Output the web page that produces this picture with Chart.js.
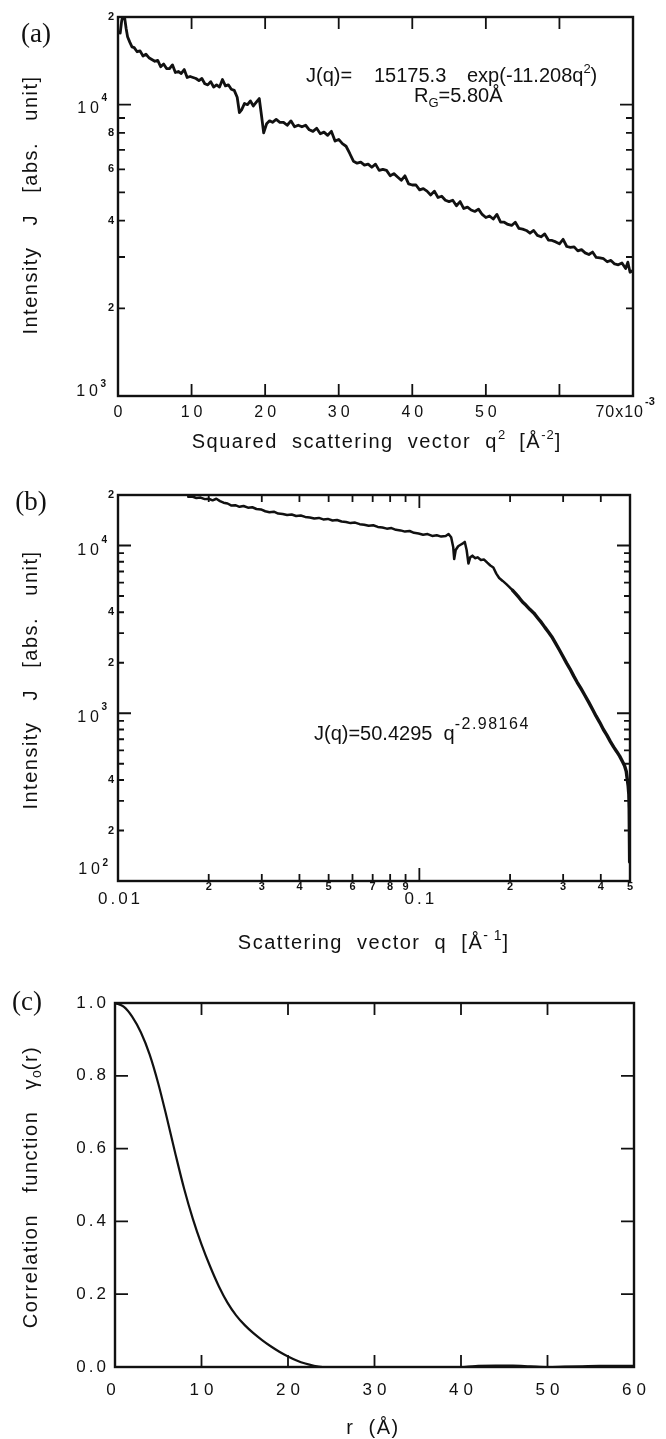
<!DOCTYPE html>
<html>
<head>
<meta charset="utf-8">
<title>Scattering curves</title>
<script src="https://cdn.jsdelivr.net/npm/chart.js@4.4.1/dist/chart.umd.min.js"></script>
<style>
  html, body { margin: 0; padding: 0; background: #fff; }
  body { position: relative; width: 666px; height: 1439px; overflow: hidden; }
  canvas { position: absolute; left: 0; }
</style>
</head>
<body>
<canvas id="guinier" width="666" height="470" style="top:0"></canvas>
<canvas id="porod" width="666" height="490" style="top:470px"></canvas>
<canvas id="corr" width="666" height="479" style="top:960px"></canvas>
<script>
const INK = '#111';
const SANS = "'Liberation Sans', Arial, Helvetica, sans-serif";
const SERIF = "'Liberation Serif', 'DejaVu Serif', serif";

// ── (a) Guinier plot: J against q² (q² in 10⁻³ Å⁻²) ─────────────

const q2Values = [
  0.3, 0.5, 0.7, 0.9, 1.1, 1.3, 1.6, 1.9, 2.2, 2.6,
  3.0, 3.4, 3.8, 4.2, 4.6, 5.0, 5.4, 5.8, 6.2, 6.6,
  7.0, 7.4, 7.8, 8.2, 8.6, 9.0, 9.4, 9.8, 10.2, 10.6,
  11.0, 11.4, 11.8, 12.2, 12.6, 13.0, 13.4, 13.8, 14.2, 14.6,
  15.0, 15.4, 15.8, 16.2, 16.5, 16.8, 17.2, 17.6, 18.0, 18.4,
  18.8, 19.2, 19.5, 19.8, 20.2, 20.6, 21.0, 21.5, 22.0, 22.5,
  23.0, 23.5, 24.0, 24.5, 25.0, 25.5, 26.0, 26.5, 27.0, 27.5,
  28.0, 28.5, 29.0, 29.5, 30.0, 30.5, 31.0, 31.5, 32.0, 32.5,
  33.0, 33.5, 34.0, 34.5, 35.0, 35.5, 36.0, 36.5, 37.0, 37.5,
  38.0, 38.5, 39.0, 39.5, 40.0, 40.5, 41.0, 41.5, 42.0, 42.5,
  43.0, 43.5, 44.0, 44.5, 45.0, 45.5, 46.0, 46.5, 47.0, 47.5,
  48.0, 48.5, 49.0, 49.5, 50.0, 50.5, 51.0, 51.5, 52.0, 52.5,
  53.0, 53.5, 54.0, 54.5, 55.0, 55.5, 56.0, 56.5, 57.0, 57.5,
  58.0, 58.5, 59.0, 59.5, 60.0, 60.5, 61.0, 61.5, 62.0, 62.5,
  63.0, 63.5, 64.0, 64.5, 65.0, 65.5, 66.0, 66.5, 67.0, 67.5,
  68.0, 68.5, 69.0, 69.3, 69.6, 70.0
];
const guinierJ = [
  17600, 19400, 20300, 19900, 18300, 17100, 16400, 15800, 15700, 15200,
  15300, 14700, 14900, 14500, 14300, 14100, 14200, 13500, 13800, 13300,
  13300, 13700, 12900, 13000, 12800, 13200, 12400, 12500, 12400, 12300,
  12100, 12300, 11800, 11700, 12000, 11500, 11700, 11500, 12200, 11600,
  11700, 11300, 11200, 10600, 9400, 9600, 10100, 10000, 10300, 9900,
  10200, 10500, 9200, 8000, 8600, 8800, 8700, 8900, 8700, 8700,
  8500, 8800, 8400, 8500, 8400, 8500, 8200, 8100, 8300, 7950,
  8050, 7850, 8100, 7500, 7600, 7350, 7200, 6800, 6400, 6300,
  6350, 6200, 6250, 6100, 6250, 5950, 6000, 5950, 5700, 5800,
  5650, 5500, 5700, 5350, 5300, 5300, 5100, 5150, 5050, 4900,
  5050, 4800, 4850, 4700, 4650, 4700, 4500, 4650, 4400, 4450,
  4350, 4300, 4380, 4200, 4100, 4150, 4050, 4200, 3950, 3950,
  3880, 3850, 3950, 3760, 3740, 3700, 3620, 3700, 3560, 3520,
  3600, 3430, 3420, 3380, 3330, 3450, 3260, 3240, 3250, 3150,
  3180, 3100, 3060, 3120, 2990, 2980, 2960, 2890, 2920, 2840,
  2820, 2860, 2740, 2880, 2660, 2700
];
const q2TickValues = [10, 20, 30, 40, 50, 60];
const q2LabelValues = [0, 10, 20, 30, 40, 50];
const q2LabelText = ['0', '10', '20', '30', '40', '50'];
const guinierMinorJ = [2000, 3000, 4000, 5000, 6000, 7000, 8000, 9000];
const guinierLabelJ = [20000, 8000, 6000, 4000, 2000];
const guinierLabelText = ['2', '8', '6', '4', '2'];

// ── (b) log-log plot: J against q (Å⁻¹) ─────────────────────────

const qValues = [
  0.0171, 0.0176, 0.0182, 0.0188, 0.0194, 0.0200, 0.0206, 0.0212, 0.0218, 0.0224,
  0.0231, 0.0238, 0.0245, 0.0253, 0.0261, 0.0270, 0.0279, 0.0288, 0.0298, 0.0308,
  0.0318, 0.0329, 0.0340, 0.0352, 0.0364, 0.0377, 0.0390, 0.0404, 0.0418, 0.0433,
  0.0448, 0.0464, 0.0480, 0.0497, 0.0515, 0.0533, 0.0552, 0.0571, 0.0591, 0.0612,
  0.0634, 0.0656, 0.0679, 0.0703, 0.0728, 0.0754, 0.0780, 0.0808, 0.0836, 0.0866,
  0.0896, 0.0928, 0.0960, 0.0994, 0.1029, 0.1065, 0.1103, 0.1142, 0.1182, 0.1223,
  0.1250, 0.1275, 0.1295, 0.1305, 0.1320, 0.1345, 0.1370, 0.1395, 0.1415, 0.1435,
  0.1455, 0.1475, 0.1500, 0.1530, 0.1560, 0.1600, 0.1640, 0.1680, 0.1720, 0.1760,
  0.1800, 0.1840, 0.1890, 0.1940, 0.1990, 0.2040, 0.2090, 0.2140, 0.2200, 0.2260,
  0.2330, 0.2400, 0.2470, 0.2540, 0.2610, 0.2680, 0.2750, 0.2830, 0.2910, 0.3000,
  0.3080, 0.3160, 0.3250, 0.3340, 0.3440, 0.3540, 0.3650, 0.3750, 0.3860, 0.3970,
  0.4080, 0.4190, 0.4300, 0.4410, 0.4520, 0.4620, 0.4720, 0.4800, 0.4860, 0.4900,
  0.4930, 0.4955, 0.4970, 0.4980, 0.4988, 0.4993
];
const porodJ = [
  19500, 19600, 19200, 19300, 18900, 19000, 18600, 19000, 18400, 18000,
  17800, 17300, 17400, 17000, 17200, 16800, 16900, 16500, 16400, 16000,
  15800, 15900, 15500, 15400, 15200, 15300, 15000, 15100, 14800, 14700,
  14500, 14600, 14300, 14400, 14100, 14200, 13900, 13800, 13600, 13700,
  13400, 13300, 13100, 13200, 12900, 12800, 12600, 12700, 12400, 12300,
  12100, 12200, 11900, 11800, 11600, 11700, 11400, 11500, 11300, 11400,
  11700, 11200, 9800, 8300, 9400, 9900, 10100, 10300, 10500, 9400,
  7800, 8500, 8700, 8400, 8500, 8200, 8250, 7900, 7600, 7400,
  6800, 6400, 6150, 5900, 5650, 5400, 5150, 4900, 4600, 4400,
  4150, 3950, 3700, 3480, 3250, 3050, 2860, 2620, 2400, 2170,
  1990, 1840, 1670, 1530, 1400, 1280, 1160, 1060, 960, 880,
  800, 740, 680, 630, 590, 555, 515, 485, 450, 400,
  370, 330, 270, 200, 150, 130
];
const qMinorTicks = [0.02, 0.03, 0.04, 0.05, 0.06, 0.07, 0.08, 0.09, 0.2, 0.3, 0.4];
const qLabelValues = [0.02, 0.03, 0.04, 0.05, 0.06, 0.07, 0.08, 0.09, 0.2, 0.3, 0.4, 0.5];
const qLabelText = ['2', '3', '4', '5', '6', '7', '8', '9', '2', '3', '4', '5'];
const porodMinorJ = [200, 300, 400, 500, 600, 700, 800, 900,
  2000, 3000, 4000, 5000, 6000, 7000, 8000, 9000];
const porodLabelJ = [20000, 4000, 2000, 400, 200];
const porodLabelText = ['2', '4', '2', '4', '2'];

// ── (c) correlation function γ₀(r), r in Å ──────────────────────

const rValues = [0, 1, 2, 3, 4, 5, 6, 7, 8, 9, 10, 11, 12, 13, 14, 15, 16, 17, 18, 19,
  20, 21, 22, 23, 24, 25, 26, 28, 30, 32, 34, 36, 38, 40, 42, 44, 46, 48, 50, 52,
  54, 56, 58, 60];
const gammaValues = [1.0, 0.99, 0.962, 0.919, 0.859, 0.779, 0.684, 0.584, 0.489, 0.407,
  0.337, 0.276, 0.222, 0.177, 0.142, 0.115, 0.093, 0.074, 0.057, 0.042,
  0.029, 0.018, 0.0095, 0.0035, -0.0005, -0.002, -0.003, -0.003, -0.002, -0.004,
  -0.007, -0.008, -0.006, -0.001, 0.003, 0.004, 0.004, 0.002, 0.0, 0.001,
  0.002, 0.003, 0.003, 0.003];
const rTickValues = [10, 20, 30, 40, 50];
const rLabelValues = [0, 10, 20, 30, 40, 50, 60];
const gammaTickValues = [0.2, 0.4, 0.6, 0.8];
const gammaLabelValues = [0, 0.2, 0.4, 0.6, 0.8, 1.0];

// ── drawing helpers ─────────────────────────────────────────────

function put(ctx, str, x, y, size, o = {}) {
  const sp = o.spacing || 0;
  const align = o.align || 'center';
  ctx.font = `${o.bold ? 'bold ' : ''}${size}px ${o.family || SANS}`;
  ctx.letterSpacing = sp + 'px';
  ctx.textAlign = align;
  ctx.textBaseline = o.baseline || 'middle';
  ctx.fillStyle = INK;
  const shift = align === 'center' ? sp / 2 : align === 'right' ? sp : 0;
  ctx.fillText(str, x + shift, y);
  const w = ctx.measureText(str).width;
  ctx.letterSpacing = '0px';
  return w;
}

// runs: [text, size, dy, spacing], drawn on one alphabetic baseline
function putRuns(ctx, runs, x, y, align = 'left') {
  let total = 0;
  runs.forEach(([t, s, dy, sp]) => {
    ctx.font = `${s}px ${SANS}`;
    ctx.letterSpacing = (sp || 0) + 'px';
    total += ctx.measureText(t).width;
  });
  ctx.letterSpacing = '0px';
  let cx = align === 'center' ? x - total / 2 : x;
  runs.forEach(([t, s, dy, sp]) => {
    cx += put(ctx, t, cx, y + (dy || 0), s, { align: 'left', baseline: 'alphabetic', spacing: sp });
  });
}

function putVertical(ctx, runs, cx, cy) {
  ctx.save();
  ctx.translate(cx, cy);
  ctx.rotate(-Math.PI / 2);
  putRuns(ctx, runs, 0, 7, 'center');
  ctx.restore();
}

// "10" with a small exponent, right edge at x
function putPower(ctx, exp, x, yBase, ySup) {
  put(ctx, exp, x, ySup, 10, { bold: true, align: 'right' });
  put(ctx, '10', x - 8, yBase, 16, { align: 'right', spacing: 4 });
}

function drawFrame(chart) {
  const { ctx, chartArea: a } = chart;
  ctx.save();
  ctx.strokeStyle = INK;
  ctx.lineWidth = 2.4;
  ctx.strokeRect(a.left, a.top, a.right - a.left, a.bottom - a.top);
  ctx.restore();
}

function tickX(chart, values, len) {
  const { ctx, chartArea: a, scales: { x } } = chart;
  ctx.save();
  ctx.strokeStyle = INK;
  ctx.lineWidth = 1.8;
  ctx.beginPath();
  values.forEach(v => {
    const px = x.getPixelForValue(v);
    ctx.moveTo(px, a.bottom); ctx.lineTo(px, a.bottom - len);
    ctx.moveTo(px, a.top); ctx.lineTo(px, a.top + len);
  });
  ctx.stroke();
  ctx.restore();
}

function tickY(chart, values, len) {
  const { ctx, chartArea: a, scales: { y } } = chart;
  ctx.save();
  ctx.strokeStyle = INK;
  ctx.lineWidth = 1.8;
  ctx.beginPath();
  values.forEach(v => {
    const py = y.getPixelForValue(v);
    ctx.moveTo(a.left, py); ctx.lineTo(a.left + len, py);
    ctx.moveTo(a.right, py); ctx.lineTo(a.right - len, py);
  });
  ctx.stroke();
  ctx.restore();
}

const baseOptions = (padding, xScale, yScale) => ({
  responsive: false,
  animation: false,
  devicePixelRatio: 1,
  layout: { padding },
  plugins: { legend: { display: false }, tooltip: { enabled: false } },
  scales: { x: { display: false, ...xScale }, y: { display: false, ...yScale } },
});

const lineSet = (xs, ys, width, extra = {}) => ({
  data: xs.map((v, i) => ({ x: v, y: ys[i] })),
  borderColor: INK,
  borderWidth: width,
  borderJoinStyle: 'round',
  borderCapStyle: 'round',
  pointRadius: 0,
  tension: 0,
  ...extra,
});

// ── (a) axes & text ─────────────────────────────────────────────

const guinierAxes = {
  id: 'guinierAxes',
  afterDraw(chart) {
    const { ctx, chartArea: a, scales: { x, y } } = chart;
    drawFrame(chart);
    tickX(chart, q2TickValues, 12);
    tickY(chart, guinierMinorJ, 7);
    tickY(chart, [10000], 13);
    ctx.save();
    q2LabelValues.forEach((v, i) => put(ctx, q2LabelText[i], x.getPixelForValue(v), 413, 16, { spacing: 4 }));
    put(ctx, '70x10', 643, 413, 16, { align: 'right', spacing: 1 });
    put(ctx, '-3', 645, 402, 11, { bold: true, align: 'left' });
    guinierLabelJ.forEach((v, i) => put(ctx, guinierLabelText[i], a.left - 4, y.getPixelForValue(v), 11, { bold: true, align: 'right' }));
    const p4 = y.getPixelForValue(10000);
    putPower(ctx, '4', 107, p4 + 4, p4 - 6);
    putPower(ctx, '3', 106, a.bottom - 4, a.bottom - 12);

    putRuns(ctx, [['Squared  scattering  vector  q', 20, 0, 1.5], ['2', 13, -9], ['  [Å', 20, 0, 1.5], ['-2', 13, -9, 1], [']', 20]], 376, 448, 'center');
    putVertical(ctx, [['Intensity   J   [abs.   unit]', 20, 0, 1.5]], 30, 205);
    put(ctx, '(a)', 36, 35, 27, { family: SERIF });

    putRuns(ctx, [['J(q)=', 20]], 306, 82);
    putRuns(ctx, [['15175.3', 20]], 374, 82);
    putRuns(ctx, [['exp(-11.208q', 20], ['2', 13, -9], [')', 20]], 467, 82);
    putRuns(ctx, [['R', 20], ['G', 13, 5], ['=5.80Å', 20]], 414, 102);
    ctx.restore();
  }
};

// ── (b) axes & text ─────────────────────────────────────────────

const porodAxes = {
  id: 'porodAxes',
  afterDraw(chart) {
    const { ctx, chartArea: a, scales: { x, y } } = chart;
    drawFrame(chart);
    tickX(chart, qMinorTicks, 7);
    tickX(chart, [0.1], 13);
    tickY(chart, porodMinorJ, 6);
    tickY(chart, [1000, 10000], 13);
    ctx.save();
    qLabelValues.forEach((v, i) => put(ctx, qLabelText[i], x.getPixelForValue(v), 417, 11, { bold: true }));
    put(ctx, '0.01', 119, 429, 17, { spacing: 3 });
    put(ctx, '0.1', x.getPixelForValue(0.1), 429, 17, { spacing: 3 });
    porodLabelJ.forEach((v, i) => put(ctx, porodLabelText[i], a.left - 4, y.getPixelForValue(v), 11, { bold: true, align: 'right' }));
    const p4 = y.getPixelForValue(10000), p3 = y.getPixelForValue(1000);
    putPower(ctx, '4', 107, p4 + 5, p4 - 5);
    putPower(ctx, '3', 107, p3 + 4, p3 - 6);
    putPower(ctx, '2', 108, a.bottom - 11, a.bottom - 18);

    putRuns(ctx, [['Scattering  vector  q  [Å', 20, 0, 1.5], ['- 1', 14, -9, 1], [']', 20]], 373, 479, 'center');
    putVertical(ctx, [['Intensity   J   [abs.   unit]', 20, 0, 1.5]], 30, 210);
    put(ctx, '(b)', 31, 33, 27, { family: SERIF });

    putRuns(ctx, [['J(q)=50.4295', 20], ['  q', 20], ['-2.98164', 16, -11, 1.5]], 314, 270);
    ctx.restore();
  }
};

// ── (c) axes & text ─────────────────────────────────────────────

const corrAxes = {
  id: 'corrAxes',
  afterDraw(chart) {
    const { ctx, chartArea: a, scales: { x, y } } = chart;
    drawFrame(chart);
    tickX(chart, rTickValues, 12);
    tickY(chart, gammaTickValues, 13);
    ctx.save();
    rLabelValues.forEach(v => put(ctx, String(v), x.getPixelForValue(v) - (v === 0 ? 4 : 0), 430, 17, { spacing: 5 }));
    gammaLabelValues.forEach(v => put(ctx, v.toFixed(1), 106, y.getPixelForValue(v), 17, { align: 'right', spacing: 3 }));

    putRuns(ctx, [['r  (Å)', 20, 0, 1.5]], 373, 474, 'center');
    putVertical(ctx, [['Correlation   function   γ', 20, 0, 1.5], ['o', 14, 4], ['(r)', 20, 0, 1.5]], 30, 227);
    put(ctx, '(c)', 27, 43, 27, { family: SERIF });
    ctx.restore();
  }
};

// ── charts ──────────────────────────────────────────────────────

new Chart(document.getElementById('guinier'), {
  type: 'line',
  data: { datasets: [lineSet(q2Values, guinierJ, 2.8)] },
  options: baseOptions({ left: 118, right: 33, top: 17, bottom: 74 },
    { type: 'linear', min: 0, max: 70 },
    { type: 'logarithmic', min: 1000, max: 20000 }),
  plugins: [guinierAxes],
});

new Chart(document.getElementById('porod'), {
  type: 'line',
  data: {
    datasets: [lineSet(qValues, porodJ, 2.5, {
      // the high-q tail is drawn as a thicker, noisier band in the original
      segment: { borderWidth: c => (c.p0.parsed.x > 0.2 ? 3.4 : 2.5) },
    })]
  },
  options: baseOptions({ left: 118, right: 36, top: 25, bottom: 79 },
    { type: 'logarithmic', min: 0.01, max: 0.5 },
    { type: 'logarithmic', min: 100, max: 20000 }),
  plugins: [porodAxes],
});

new Chart(document.getElementById('corr'), {
  type: 'line',
  data: { datasets: [lineSet(rValues, gammaValues, 2.2, { cubicInterpolationMode: 'monotone' })] },
  options: baseOptions({ left: 115, right: 32, top: 43, bottom: 72 },
    { type: 'linear', min: 0, max: 60 },
    { type: 'linear', min: 0, max: 1.0 }),
  plugins: [corrAxes],
});
</script>
</body>
</html>
